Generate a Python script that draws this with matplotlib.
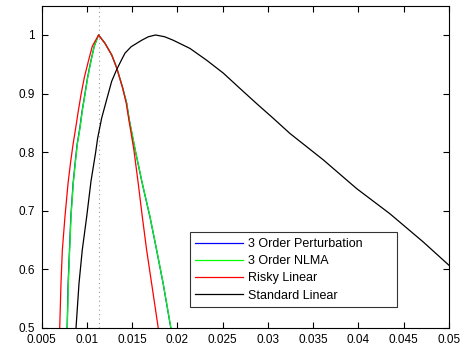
import matplotlib
matplotlib.use("Agg")
import matplotlib.pyplot as plt

plt.rcParams['font.family'] = ['Liberation Sans', 'DejaVu Sans']

# Data
nlma_x = [0.00785, 0.00796, 0.00811, 0.00826, 0.00851, 0.00875, 0.00895, 0.00925, 0.00950,
          0.00980, 0.01010, 0.01046, 0.01083, 0.01130,
          0.01200, 0.01275, 0.01330, 0.01396, 0.01440, 0.01470, 0.01535, 0.01613, 0.01698,
          0.01772, 0.01844, 0.01929]
nlma_y = [0.500, 0.576, 0.633, 0.690, 0.747, 0.784, 0.813, 0.841, 0.870,
          0.898, 0.927, 0.955, 0.981, 1.000,
          0.986, 0.966, 0.944, 0.910, 0.884, 0.855, 0.804, 0.747, 0.690,
          0.633, 0.576, 0.500]

pert_x = [0.00783, 0.00794, 0.00809, 0.00824, 0.00849, 0.00873, 0.00893, 0.00923, 0.00948,
          0.00978, 0.01008, 0.01044, 0.01082, 0.01130,
          0.01200, 0.01275, 0.01330, 0.01396, 0.01440, 0.01469, 0.01534, 0.01612, 0.01697,
          0.01771, 0.01843, 0.01928]
pert_y = nlma_y

risky_x = [0.00701, 0.00715, 0.00730, 0.00759, 0.00793, 0.00822, 0.00848, 0.00877, 0.00906,
           0.00936, 0.00972, 0.01017, 0.01061, 0.01130,
           0.01200, 0.01275, 0.01330, 0.01395, 0.01435, 0.01465, 0.01520, 0.01568, 0.01613,
           0.01661, 0.01716, 0.01789]
risky_y = [0.500, 0.576, 0.633, 0.690, 0.747, 0.784, 0.813, 0.841, 0.870,
           0.898, 0.927, 0.955, 0.981, 1.000,
           0.986, 0.966, 0.944, 0.910, 0.884, 0.855, 0.804, 0.747, 0.690,
           0.633, 0.576, 0.500]

std_x = [0.00881, 0.00914, 0.00950, 0.00999, 0.01046, 0.01098, 0.01120, 0.01164, 0.01220,
         0.01275, 0.01330, 0.01385, 0.01422, 0.01490, 0.01606, 0.01680, 0.01760, 0.01860,
         0.01955, 0.02140, 0.02323, 0.02507, 0.02690, 0.02875, 0.03058, 0.03243,
         0.03611, 0.03979, 0.04347, 0.04714, 0.05000]
std_y = [0.500, 0.576, 0.633, 0.690, 0.750, 0.800, 0.824, 0.858, 0.890,
         0.921, 0.941, 0.958, 0.969, 0.980, 0.991, 0.997, 1.000, 0.997,
         0.991, 0.977, 0.957, 0.935, 0.909, 0.883, 0.858, 0.832,
         0.787, 0.738, 0.695, 0.647, 0.607]

vline_x = 0.0113

labels = ['3 Order Perturbation', '3 Order NLMA', 'Risky Linear', 'Standard Linear']
xticks = [0.005, 0.01, 0.015, 0.02, 0.025, 0.03, 0.035, 0.04, 0.045, 0.05]
xticklabels = ['0.005', '0.01', '0.015', '0.02', '0.025', '0.03', '0.035', '0.04', '0.045', '0.05']
yticks = [0.5, 0.6, 0.7, 0.8, 0.9, 1.0]
yticklabels = ['0.5', '0.6', '0.7', '0.8', '0.9', '1']

fig = plt.figure(figsize=(4.68, 3.49), dpi=100)
ax = fig.add_axes([0.0887, 0.0602, 0.8707, 0.9235])

lw = 0.9
ax.axvline(vline_x, color='#999999', linestyle=(0, (1, 3)), linewidth=0.8)
ax.plot(pert_x, pert_y, color='#0000ff', linewidth=lw, label=labels[0])
ax.plot(nlma_x, nlma_y, color='#00ff00', linewidth=lw, label=labels[1])
ax.plot(risky_x, risky_y, color='#ff0000', linewidth=lw, label=labels[2])
ax.plot(std_x, std_y, color='#000000', linewidth=lw, label=labels[3])

ax.set_xlim(0.005, 0.05)
ax.set_ylim(0.5, 1.05)
ax.set_xticks(xticks)
ax.set_xticklabels(xticklabels)
ax.set_yticks(yticks)
ax.set_yticklabels(yticklabels)
ax.tick_params(direction='in', top=True, right=True, length=4, width=0.8,
               labelsize=8.5)
ax.tick_params(axis='x', pad=4)
ax.tick_params(axis='y', pad=5)
for s in ax.spines.values():
    s.set_linewidth(0.8)

leg = ax.legend(loc='lower left', bbox_to_anchor=(0.364, 0.064, 0.508, 0.225),
                mode='expand', fontsize=9, frameon=True, fancybox=False,
                edgecolor='black', handlelength=3.8, handletextpad=0.4,
                labelspacing=0.42, borderpad=0.45, borderaxespad=0)
leg.get_frame().set_linewidth(0.8)

fig.savefig('out.png', dpi=100)
